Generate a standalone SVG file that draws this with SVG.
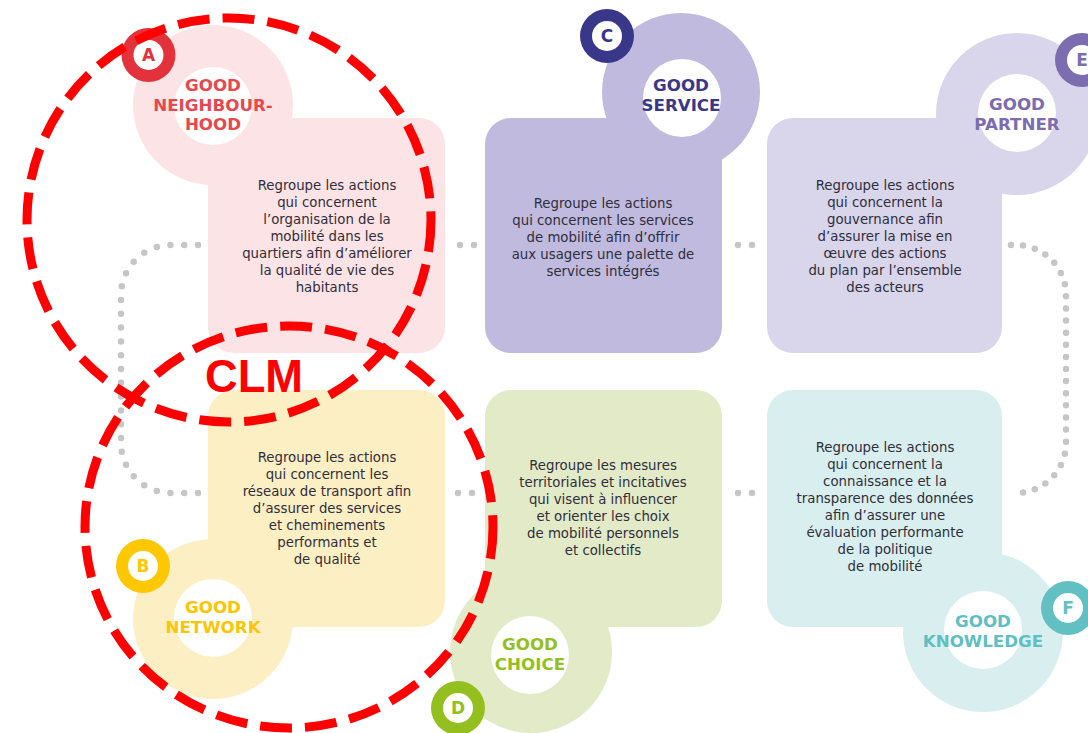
<svg xmlns="http://www.w3.org/2000/svg" width="1088" height="733" viewBox="0 0 1088 733">
<style>
.body{font-family:"DejaVu Sans","Liberation Sans",sans-serif;font-size:13.3px;fill:#2f2e3b;text-anchor:middle}
.title{font-family:"DejaVu Sans","Liberation Sans",sans-serif;font-size:16.7px;font-weight:bold;text-anchor:middle}
.badge{font-family:"DejaVu Sans","Liberation Sans",sans-serif;font-size:17px;font-weight:bold;text-anchor:middle}
.dots{fill:none;stroke:#c6c6c6;stroke-width:6.5;stroke-linecap:round;stroke-dasharray:0 1}
.pair{fill:none;stroke:#c6c6c6;stroke-width:6.5;stroke-linecap:round;stroke-dasharray:0 14}
.clm{fill:none;stroke:#ff0000;stroke-width:9;stroke-dasharray:32 13}
.white{fill:#ffffff}
</style>
<rect width="1088" height="733" fill="#ffffff"/>
<g id="connectors">
<path class="dots" pathLength="26" d="M198,245 H171 A50,50 0 0 0 121,295 V443 A50,50 0 0 0 171,493 H198"/>
<path class="dots" pathLength="26" d="M1011,245 H1016 A50,50 0 0 1 1066,295 V443 A50,50 0 0 1 1016,493 H1011"/>
<path class="pair" d="M460,245 H474.5"/>
<path class="pair" d="M738,245 H752.5"/>
<path class="pair" d="M458,493 H472.5"/>
<path class="pair" d="M738,493 H752.5"/>
</g>
<g id="node-a">
<circle cx="213" cy="105" r="80" fill="#fce3e5"/>
<rect x="208" y="118" width="237" height="235" rx="26" fill="#fce3e5"/>
<circle cx="213" cy="106" r="39" class="white"/>
<text class="title" fill="#e84750"><tspan x="213" y="91">GOOD</tspan><tspan x="213" y="110.5">NEIGHBOUR-</tspan><tspan x="213" y="130">HOOD</tspan></text>
<circle cx="148.5" cy="55" r="27" fill="#e3323b"/>
<circle cx="148.5" cy="55" r="15" class="white"/>
<text class="badge" x="148.5" y="61" fill="#e3323b">A</text>
<text class="body"><tspan x="327" y="190">Regroupe les actions</tspan><tspan x="327" y="207">qui concernent</tspan><tspan x="327" y="224">l’organisation de la</tspan><tspan x="327" y="241">mobilité dans les</tspan><tspan x="327" y="258">quartiers afin d’améliorer</tspan><tspan x="327" y="275">la qualité de vie des</tspan><tspan x="327" y="292">habitants</tspan></text>
</g>
<g id="node-c">
<circle cx="681" cy="92" r="79" fill="#bfbade"/>
<rect x="485" y="118" width="237" height="235" rx="26" fill="#bfbade"/>
<circle cx="682" cy="98" r="39" class="white"/>
<text class="title" fill="#3b3787"><tspan x="681" y="91">GOOD</tspan><tspan x="681" y="110.5">SERVICE</tspan></text>
<circle cx="607" cy="36" r="27" fill="#39378a"/>
<circle cx="607" cy="36" r="15" class="white"/>
<text class="badge" x="607" y="42" fill="#39378a">C</text>
<text class="body"><tspan x="603" y="208">Regroupe les actions</tspan><tspan x="603" y="225">qui concernent les services</tspan><tspan x="603" y="242">de mobilité afin d’offrir</tspan><tspan x="603" y="259">aux usagers une palette de</tspan><tspan x="603" y="276">services intégrés</tspan></text>
</g>
<g id="node-e">
<circle cx="1017" cy="114" r="81" fill="#d9d5eb"/>
<rect x="767" y="118" width="235" height="235" rx="26" fill="#d9d5eb"/>
<circle cx="1017" cy="113" r="39" class="white"/>
<text class="title" fill="#7a6cae"><tspan x="1017" y="110">GOOD</tspan><tspan x="1017" y="129.5">PARTNER</tspan></text>
<circle cx="1082" cy="60" r="27" fill="#7c6db0"/>
<circle cx="1082" cy="60" r="15" class="white"/>
<text class="badge" x="1082" y="66" fill="#7c6db0">E</text>
<text class="body"><tspan x="885" y="190">Regroupe les actions</tspan><tspan x="885" y="207">qui concernent la</tspan><tspan x="885" y="224">gouvernance afin</tspan><tspan x="885" y="241">d’assurer la mise en</tspan><tspan x="885" y="258">œuvre des actions</tspan><tspan x="885" y="275">du plan par l’ensemble</tspan><tspan x="885" y="292">des acteurs</tspan></text>
</g>
<g id="node-b">
<circle cx="213" cy="619" r="80" fill="#fdefc4"/>
<rect x="208" y="390" width="237" height="237" rx="26" fill="#fdefc4"/>
<circle cx="213" cy="618" r="39" class="white"/>
<text class="title" fill="#fcc500"><tspan x="213" y="613">GOOD</tspan><tspan x="213" y="633">NETWORK</tspan></text>
<circle cx="143" cy="566" r="27" fill="#fdc800"/>
<circle cx="143" cy="566" r="15" class="white"/>
<text class="badge" x="143" y="572" fill="#fdc800">B</text>
<text class="body"><tspan x="327" y="462">Regroupe les actions</tspan><tspan x="327" y="479">qui concernent les</tspan><tspan x="327" y="496">réseaux de transport afin</tspan><tspan x="327" y="513">d’assurer des services</tspan><tspan x="327" y="530">et cheminements</tspan><tspan x="327" y="547">performants et</tspan><tspan x="327" y="564">de qualité</tspan></text>
</g>
<g id="node-d">
<circle cx="531" cy="652" r="81" fill="#e3eac8"/>
<rect x="485" y="390" width="237" height="237" rx="26" fill="#e3eac8"/>
<circle cx="530" cy="655" r="39" class="white"/>
<text class="title" fill="#93c01f"><tspan x="530" y="650">GOOD</tspan><tspan x="530" y="669.5">CHOICE</tspan></text>
<circle cx="458" cy="708" r="27" fill="#93c01f"/>
<circle cx="458" cy="708" r="15" class="white"/>
<text class="badge" x="458" y="714" fill="#93c01f">D</text>
<text class="body"><tspan x="603" y="470">Regroupe les mesures</tspan><tspan x="603" y="487">territoriales et incitatives</tspan><tspan x="603" y="504">qui visent à influencer</tspan><tspan x="603" y="521">et orienter les choix</tspan><tspan x="603" y="538">de mobilité personnels</tspan><tspan x="603" y="555">et collectifs</tspan></text>
</g>
<g id="node-f">
<circle cx="983" cy="632" r="80" fill="#d9eeee"/>
<rect x="767" y="390" width="235" height="237" rx="26" fill="#d9eeee"/>
<circle cx="983" cy="630" r="39" class="white"/>
<text class="title" fill="#5fbfc2"><tspan x="983" y="627">GOOD</tspan><tspan x="983" y="646.5">KNOWLEDGE</tspan></text>
<circle cx="1068" cy="608" r="27" fill="#62c0c3"/>
<circle cx="1068" cy="608" r="15" class="white"/>
<text class="badge" x="1068" y="614" fill="#62c0c3">F</text>
<text class="body"><tspan x="885" y="452">Regroupe les actions</tspan><tspan x="885" y="469">qui concernent la</tspan><tspan x="885" y="486">connaissance et la</tspan><tspan x="885" y="503">transparence des données</tspan><tspan x="885" y="520">afin d’assurer une</tspan><tspan x="885" y="537">évaluation performante</tspan><tspan x="885" y="554">de la politique</tspan><tspan x="885" y="571">de mobilité</tspan></text>
</g>
<g id="clm">
<circle class="clm" cx="229" cy="220" r="202"/>
<ellipse class="clm" cx="289" cy="527" rx="204" ry="201"/>
<text x="254" y="392" font-family="'Liberation Sans',Arial,sans-serif" font-size="47" font-weight="bold" fill="#ff0000" text-anchor="middle" textLength="98" lengthAdjust="spacingAndGlyphs">CLM</text>
</g>
</svg>
